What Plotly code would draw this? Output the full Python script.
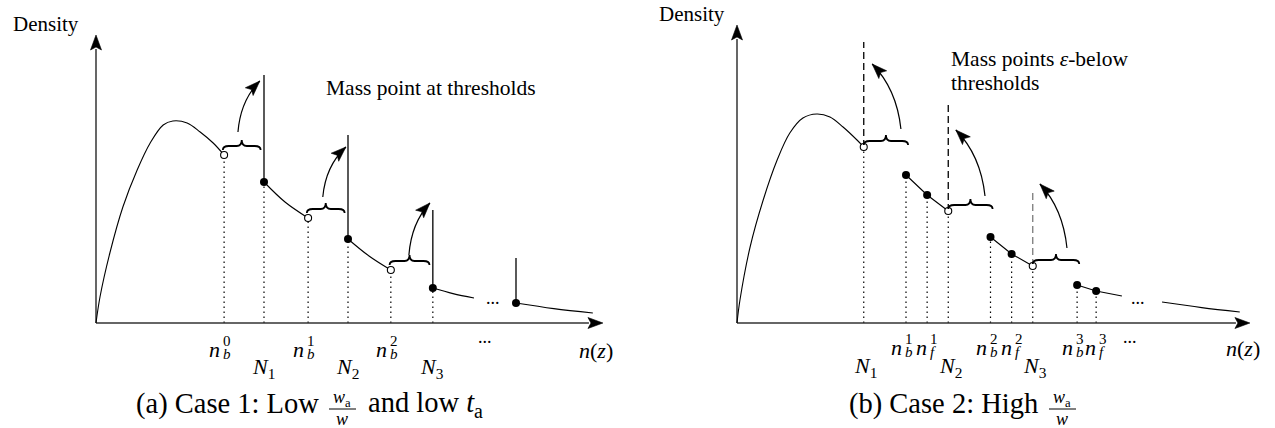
import math
import plotly.graph_objects as go

W, H = 1275, 428
FONT = "Liberation Serif, Times New Roman, DejaVu Serif, serif"

# ---------------- data: panel (a) Case 1 ----------------
a_curve_n = [0, 0.095, 0.33, 0.64, 0.98, 1.29, 1.6, 1.83, 2.17, 2.48, 2.79, 3.05]
a_curve_d = [0, 0.13, 0.35, 0.58, 0.765, 0.90, 0.99, 1.01, 1.0, 0.955, 0.90, 0.84]
a_thr = [4.0, 6.0, 8.02, 10.0]             # thresholds N1..N4
a_thr_dens = [0.705, 0.42, 0.175, 0.10]    # density right at threshold
a_thr_mass = [1.24, 0.94, 0.565, 0.325]    # height of mass-point spike
a_bunch = [3.05, 5.05, 7.02]               # n_b^0 .. n_b^2
a_bunch_dens = [0.84, 0.525, 0.265]
a_seg_n = [[4.0, 4.5, 5.05], [6.0, 6.5, 7.02], [8.02, 8.5, 9.0], [10.0, 10.9, 11.83]]
a_seg_d = [[0.705, 0.605, 0.525], [0.42, 0.335, 0.265], [0.175, 0.147, 0.125], [0.10, 0.072, 0.05]]
a_arrow_from_n = [3.38, 5.40, 7.45]
a_arrow_from_d = [0.955, 0.63, 0.34]
a_arrow_to_n = [3.9, 5.95, 7.95]
a_arrow_to_d = [1.21, 0.88, 0.60]
a_bunch_sup = ["0", "1", "2"]
a_thr_sub = ["1", "2", "3"]

# ---------------- data: panel (b) Case 2 ----------------
b_curve_n = [0, 0.07, 0.31, 0.62, 0.95, 1.25, 1.56, 1.89, 2.2, 2.51, 2.84, 3.0]
b_curve_d = [0, 0.115, 0.38, 0.615, 0.815, 0.95, 1.025, 1.045, 1.03, 0.98, 0.915, 0.88]
b_thr = [3.0, 5.0, 7.0]                    # thresholds N1..N3
b_thr_dens = [0.88, 0.56, 0.285]
b_thr_top = [1.405, 1.09, 0.655]
b_thr_color = ["black", "black", "#7a7a7a"]
b_nb = [4.0, 6.0, 8.05]
b_nb_dens = [0.74, 0.43, 0.19]
b_nf = [4.5, 6.5, 8.5]
b_nf_dens = [0.64, 0.345, 0.16]
b_seg3_end = (9.11, 0.135)
b_tail_n = [10.06, 11.0, 11.9]
b_tail_d = [0.105, 0.077, 0.055]
b_arrow_from_n = [3.88, 5.87, 7.81]
b_arrow_from_d = [0.97, 0.635, 0.375]
b_arrow_to_n = [3.2, 5.18, 7.17]
b_arrow_to_d = [1.295, 0.965, 0.695]
b_idx = ["1", "2", "3"]

# ---------------- geometry (pixels) ----------------
A_OX, A_SX = 96, 42.0
B_OX, B_SX = 737, 42.25
OY, SY = 323, 200.0
A_XTIP, A_YTIP = 12.07, 1.44
B_XTIP, B_YTIP = 12.14, 1.49


def py(p):
    return 1 - p / H


def px(p):
    return p / W


fig = go.Figure()
shapes = []
anns = []


def arrowhead(xr, yr, x, y, ux, uy, L=14, Wd=10):
    n = math.hypot(ux, uy)
    ux, uy = ux / n, uy / n
    pxx, pyy = -uy, ux
    b1 = (-L * ux + Wd / 2 * pxx, -L * uy + Wd / 2 * pyy)
    b2 = (-L * ux - Wd / 2 * pxx, -L * uy - Wd / 2 * pyy)
    bm = (-0.8 * L * ux, -0.8 * L * uy)
    path = (f"M 0,0 L {b1[0]:.2f},{b1[1]:.2f} L {bm[0]:.2f},{bm[1]:.2f} "
            f"L {b2[0]:.2f},{b2[1]:.2f} Z")
    shapes.append(dict(type="path", xref=xr, yref=yr, xsizemode="pixel", ysizemode="pixel",
                       xanchor=x, yanchor=y, path=path, fillcolor="black",
                       line=dict(color="black", width=0.6)))


def brace(xr, yr, x0, y0, wpx, off=5, h=10, lift=4):
    m = wpx / 2
    b = off
    l = off + lift
    t = off + h
    path = (f"M 0,{b} C 0,{b + lift * 0.8:.2f} 2,{l} 6,{l} L {m - 5:.2f},{l} "
            f"C {m - 1.5:.2f},{l} {m:.2f},{l + 1.5} {m:.2f},{t} "
            f"C {m:.2f},{l + 1.5} {m + 1.5:.2f},{l} {m + 5:.2f},{l} "
            f"L {wpx - 6:.2f},{l} C {wpx - 2:.2f},{l} {wpx:.2f},{b + lift * 0.8:.2f} {wpx:.2f},{b}")
    shapes.append(dict(type="path", xref=xr, yref=yr, xsizemode="pixel", ysizemode="pixel",
                       xanchor=x0, yanchor=y0, path=path, line=dict(color="black", width=1.8)))


def curved_arrow(xr, yr, sx, x0, y0, x1, y1, bend):
    cx = x0 + bend * (x1 - x0)
    cy = y0 + 0.62 * (y1 - y0)
    shapes.append(dict(type="path", xref=xr, yref=yr,
                       path=f"M {x0},{y0} Q {cx:.3f},{cy:.3f} {x1},{y1}",
                       line=dict(color="black", width=1.2)))
    arrowhead(xr, yr, x1, y1, (x1 - cx) * sx, (y1 - cy) * SY, L=15, Wd=11)


def vline(xr, yr, x, y0, y1, dash="solid", color="black", width=1.2, layer="below"):
    shapes.append(dict(type="line", xref=xr, yref=yr, x0=x, x1=x, y0=y0, y1=y1, layer=layer,
                       line=dict(color=color, width=width, dash=dash)))


def txt(xr, yr, x, y, text, size, xanchor="center", yanchor="middle", xshift=0, yshift=0):
    anns.append(dict(xref=xr, yref=yr, x=x, y=y, text=text, showarrow=False,
                     font=dict(family=FONT, size=size, color="black"),
                     xanchor=xanchor, yanchor=yanchor, xshift=xshift, yshift=yshift))


def nlabel(xr, x, sub, sup, ycen, xshift=-2):
    txt(xr, "paper", x, py(ycen), "<i>n</i>", 22, xanchor="right", xshift=xshift)
    txt(xr, "paper", x, py(ycen + 5), f"<i>{sub}</i>", 15, xanchor="left", xshift=xshift - 1)
    txt(xr, "paper", x, py(ycen - 8), sup, 15, xanchor="left", xshift=xshift - 1)


DOT = "1.5px,3.5px"

# ================= Panel (a) =================
xa, ya = "x", "y"
shapes.append(dict(type="line", xref=xa, yref=ya, x0=0, y0=0, x1=A_XTIP - 14 / A_SX, y1=0,
                   line=dict(color="#333", width=1.4)))
shapes.append(dict(type="line", xref=xa, yref=ya, x0=0, y0=0, x1=0, y1=A_YTIP - 14 / SY,
                   line=dict(color="black", width=1.2)))
arrowhead(xa, ya, A_XTIP, 0, 1, 0, L=15, Wd=11)
arrowhead(xa, ya, 0, A_YTIP, 0, 1, L=15, Wd=11)

fig.add_trace(go.Scatter(x=a_curve_n, y=a_curve_d, mode="lines", line=dict(color="black", width=1.1, shape="spline"),
                         xaxis=xa, yaxis=ya, hoverinfo="skip"))
for sn, sd in zip(a_seg_n, a_seg_d):
    fig.add_trace(go.Scatter(x=sn, y=sd, mode="lines", line=dict(color="black", width=1.1, shape="spline"),
                             xaxis=xa, yaxis=ya, hoverinfo="skip"))
for n, d, m in zip(a_thr, a_thr_dens, a_thr_mass):
    vline(xa, ya, n, d, m, width=1.3)
for n, d in zip(a_thr[:3], a_thr_dens[:3]):
    vline(xa, ya, n, 0, d, dash=DOT)
for n, d in zip(a_bunch, a_bunch_dens):
    vline(xa, ya, n, 0, d, dash=DOT)
fig.add_trace(go.Scatter(x=a_thr, y=a_thr_dens, mode="markers",
                         marker=dict(color="black", size=8), xaxis=xa, yaxis=ya, hoverinfo="skip"))
fig.add_trace(go.Scatter(x=a_bunch, y=a_bunch_dens, mode="markers",
                         marker=dict(color="white", size=7, line=dict(color="black", width=1.1)),
                         xaxis=xa, yaxis=ya, hoverinfo="skip"))
for nb, d, N in zip(a_bunch, a_bunch_dens, a_thr):
    brace(xa, ya, nb - 0.03, d, (N - nb - 0.05) * A_SX, off=5)
for x0, y0, x1, y1 in zip(a_arrow_from_n, a_arrow_from_d, a_arrow_to_n, a_arrow_to_d):
    curved_arrow(xa, ya, A_SX, x0, y0, x1, y1, 0.12)

txt("paper", "paper", px(11), py(24), "Density", 21, xanchor="left")
txt("paper", "paper", px(324), py(88), "Mass point at thresholds", 21.5, xanchor="left")
for n, s in zip(a_bunch, a_bunch_sup):
    nlabel(xa, n, "b", s, 349)
for n, s in zip(a_thr[:3], a_thr_sub):
    txt(xa, "paper", n, py(368), f"<i>N</i><sub>{s}</sub>", 22, xshift=-1)
txt(xa, ya, 9.45, (OY - 298) / SY, "...", 18)
txt(xa, "paper", 9.25, py(337), "...", 18)
txt("paper", "paper", px(596), py(350), "<i>n</i>(<i>z</i>)", 22)
txt("paper", "paper", px(321), py(404), "(a) Case 1: Low", 28.5, xanchor="right")
txt("paper", "paper", px(342), py(398), "<i>w</i><sub>a</sub>", 18)
txt("paper", "paper", px(342), py(419), "<i>w</i>", 18)
shapes.append(dict(type="line", xref="paper", yref="paper", x0=px(329), x1=px(356), y0=py(409), y1=py(409),
                   line=dict(color="black", width=1)))
txt("paper", "paper", px(366), py(404), "and low <i>t</i><sub>a</sub>", 28.5, xanchor="left")

# ================= Panel (b) =================
xb, yb = "x2", "y2"
shapes.append(dict(type="line", xref=xb, yref=yb, x0=0, y0=0, x1=B_XTIP - 14 / B_SX, y1=0,
                   line=dict(color="#333", width=1.4)))
shapes.append(dict(type="line", xref=xb, yref=yb, x0=0, y0=0, x1=0, y1=B_YTIP - 14 / SY,
                   line=dict(color="black", width=1.2)))
arrowhead(xb, yb, B_XTIP, 0, 1, 0, L=15, Wd=11)
arrowhead(xb, yb, 0, B_YTIP, 0, 1, L=15, Wd=11)

fig.add_trace(go.Scatter(x=b_curve_n, y=b_curve_d, mode="lines", line=dict(color="black", width=1.1, shape="spline"),
                         xaxis=xb, yaxis=yb, hoverinfo="skip"))
for k in range(3):
    end_n = b_thr[k + 1] if k < 2 else b_seg3_end[0]
    end_d = b_thr_dens[k + 1] if k < 2 else b_seg3_end[1]
    fig.add_trace(go.Scatter(x=[b_nb[k], b_nf[k], end_n], y=[b_nb_dens[k], b_nf_dens[k], end_d], mode="lines",
                             line=dict(color="black", width=1.1), xaxis=xb, yaxis=yb, hoverinfo="skip"))
fig.add_trace(go.Scatter(x=b_tail_n, y=b_tail_d, mode="lines", line=dict(color="black", width=1.1, shape="spline"),
                         xaxis=xb, yaxis=yb, hoverinfo="skip"))
for n, d, t, c in zip(b_thr, b_thr_dens, b_thr_top, b_thr_color):
    vline(xb, yb, n, d, t, dash="7px,4px", color=c, width=1.3)
    vline(xb, yb, n, 0, d, dash=DOT)
for n, d in zip(b_nb + b_nf, b_nb_dens + b_nf_dens):
    vline(xb, yb, n, 0, d, dash=DOT)
fig.add_trace(go.Scatter(x=b_nb + b_nf, y=b_nb_dens + b_nf_dens, mode="markers",
                         marker=dict(color="black", size=8), xaxis=xb, yaxis=yb, hoverinfo="skip"))
fig.add_trace(go.Scatter(x=b_thr, y=b_thr_dens, mode="markers",
                         marker=dict(color="white", size=7, line=dict(color="black", width=1.1)),
                         xaxis=xb, yaxis=yb, hoverinfo="skip"))
for N, d, nb in zip(b_thr, b_thr_dens, b_nb):
    brace(xb, yb, N, d, (nb - N + 0.05) * B_SX, off=2)
for x0, y0, x1, y1 in zip(b_arrow_from_n, b_arrow_from_d, b_arrow_to_n, b_arrow_to_d):
    curved_arrow(xb, yb, B_SX, x0, y0, x1, y1, 0.15)

txt("paper", "paper", px(657), py(14), "Density", 21, xanchor="left")
txt("paper", "paper", px(949), py(59), "Mass points <i>ε</i>-below", 21.5, xanchor="left")
txt("paper", "paper", px(949), py(83), "thresholds", 21.5, xanchor="left")
for n, s in zip(b_nb, b_idx):
    nlabel(xb, n, "b", s, 347)
for n, s in zip(b_nf, b_idx):
    nlabel(xb, n, "f", s, 347, xshift=2)
for n, s in zip(b_thr, b_idx):
    txt(xb, "paper", n, py(367), f"<i>N</i><sub>{s}</sub>", 22, xshift=2)
txt(xb, yb, 9.5, (OY - 298) / SY, "...", 18)
txt(xb, "paper", 9.3, py(337), "...", 18)
txt("paper", "paper", px(1243), py(348), "<i>n</i>(<i>z</i>)", 22)
txt("paper", "paper", px(1040), py(404), "(b) Case 2: High", 28.5, xanchor="right")
txt("paper", "paper", px(1062), py(398), "<i>w</i><sub>a</sub>", 18)
txt("paper", "paper", px(1062), py(419), "<i>w</i>", 18)
shapes.append(dict(type="line", xref="paper", yref="paper", x0=px(1049), x1=px(1076), y0=py(409), y1=py(409),
                   line=dict(color="black", width=1)))

ax_common = dict(visible=False, showgrid=False, zeroline=False, fixedrange=True)
fig.update_layout(
    width=W, height=H, autosize=False,
    margin=dict(l=0, r=0, t=0, b=0, pad=0),
    paper_bgcolor="white", plot_bgcolor="white",
    showlegend=False,
    font=dict(family=FONT),
    xaxis=dict(domain=[0, 0.5], range=[-A_OX / A_SX, (W / 2 - A_OX) / A_SX], **ax_common),
    yaxis=dict(domain=[0, 1], range=[-(H - OY) / SY, OY / SY], anchor="x", **ax_common),
    xaxis2=dict(domain=[0.5, 1], range=[-(B_OX - W / 2) / B_SX, (W - B_OX) / B_SX], anchor="y2", **ax_common),
    yaxis2=dict(domain=[0, 1], range=[-(H - OY) / SY, OY / SY], anchor="x2", **ax_common),
    shapes=shapes, annotations=anns,
)

fig.write_html("out.html", config={"displayModeBar": False, "staticPlot": True},
               post_script="document.body.style.margin='0';document.body.style.overflow='hidden';")
